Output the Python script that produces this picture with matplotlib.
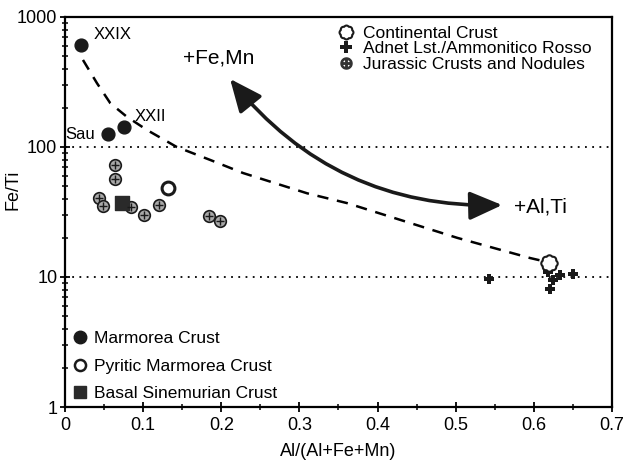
import matplotlib
matplotlib.use('Agg')
import matplotlib.pyplot as plt
import numpy as np
from matplotlib.path import Path
from matplotlib.patches import FancyArrowPatch
from matplotlib.lines import Line2D

plt.rcParams['font.family'] = ['Liberation Sans', 'DejaVu Sans']

# Marmorea Crust (labelled points)
marm_x = [0.021, 0.055, 0.075]
marm_y = [609, 126, 143]
marm_lab = ['XXIX', 'Sau', 'XXII']
# Pyritic Marmorea Crust
pyr_x = [0.132]
pyr_y = [48]
# Basal Sinemurian Crust
bas_x = [0.073]
bas_y = [37]
# Jurassic crusts and nodules
jur_x = [0.064, 0.064, 0.043, 0.049, 0.085, 0.1015, 0.120, 0.184, 0.198]
jur_y = [72.7, 56.4, 40.3, 35.4, 34.4, 29.8, 35.8, 29.3, 27.1]
# Continental crust
cc_x = [0.619]
cc_y = [12.9]
# Adnet Lst./Ammonitico Rosso
adn_x = [0.542, 0.618, 0.624, 0.621, 0.634, 0.650]
adn_y = [9.7, 10.9, 9.5, 8.1, 10.4, 10.5]
# mixing curve
mix_x = [0.023, 0.041, 0.058, 0.079, 0.105, 0.143, 0.186, 0.228, 0.310, 0.361, 0.502, 0.595, 0.618]
mix_y = [467, 309, 217, 171, 135, 100, 79.4, 63, 44, 37, 20, 14, 13]

# scalloped circle marker for continental crust
t = np.linspace(0, 2 * np.pi, 200)
r = 1 + 0.13 * np.abs(np.cos(4 * t))
flower = Path(np.column_stack([r * np.cos(t), r * np.sin(t)]), closed=True)

fig = plt.figure(figsize=(6.28, 4.66), dpi=100)
ax = fig.add_axes([0.1035, 0.1266, 0.871, 0.837])
ax.set_yscale('log')
ax.set_xlim(0, 0.7)
ax.set_ylim(1, 1000)

ax.axhline(100, color='black', ls=(0, (1, 3)), lw=1.3, zorder=1)
ax.axhline(10, color='black', ls=(0, (1, 3)), lw=1.3, zorder=1)
ax.plot(mix_x, mix_y, color='black', ls=(0, (4.5, 3.5)), lw=1.8, zorder=2)

ax.scatter(jur_x, jur_y, s=70, marker='o', facecolor='#a8a8a8', edgecolor='#1a1a1a', linewidths=1.2, zorder=3)
ax.scatter(jur_x, jur_y, s=40, marker='+', color='#1a1a1a', linewidths=1.0, zorder=4)
ax.scatter(marm_x, marm_y, s=85, marker='o', color='#1a1a1a', zorder=3)
ax.scatter(pyr_x, pyr_y, s=85, marker='o', facecolor='white', edgecolor='#1a1a1a', linewidths=2.2, zorder=3)
ax.scatter(bas_x, bas_y, s=95, marker='s', color='#2a2a2a', zorder=3)
ax.scatter(adn_x, adn_y, s=60, marker='P', color='#1a1a1a', linewidths=0, zorder=3)
ax.scatter(cc_x, cc_y, s=140, marker=flower, facecolor='white', edgecolor='#1a1a1a', linewidths=1.5, zorder=4)

ax.text(0.036, 727, marm_lab[0], fontsize=12, va='center', ha='left')
ax.text(0.0384, 124, marm_lab[1], fontsize=12, va='center', ha='right')
ax.text(0.0897, 171, marm_lab[2], fontsize=12, va='center', ha='left')
ax.text(0.151, 481, '+Fe,Mn', fontsize=15, va='center', ha='left')
ax.text(0.574, 34.7, '+Al,Ti', fontsize=15, va='center', ha='left')

arrow = FancyArrowPatch((0.209, 347), (0.563, 35.8), connectionstyle='arc3,rad=0.25',
                        arrowstyle='<|-|>,head_length=0.8,head_width=0.35', mutation_scale=25,
                        lw=2.6, color='#1a1a1a', zorder=5)
ax.add_patch(arrow)

h1 = [Line2D([], [], ls='', marker=flower, ms=10, mfc='white', mec='#1a1a1a', mew=1.5),
      Line2D([], [], ls='', marker='P', ms=8, color='#1a1a1a', mew=0),
      Line2D([], [], ls='', marker='$\\oplus$', ms=8, color='#333333')]
leg1 = ax.legend(h1, ['Continental Crust', 'Adnet Lst./Ammonitico Rosso', 'Jurassic Crusts and Nodules'],
                 loc='upper left', bbox_to_anchor=(0.475, 1.012), frameon=False, fontsize=12.5,
                 handlelength=0.8, handletextpad=0.6, labelspacing=0.0, borderpad=0.3)
ax.add_artist(leg1)

h2 = [Line2D([], [], ls='', marker='o', ms=9, color='#1a1a1a'),
      Line2D([], [], ls='', marker='o', ms=8, mfc='white', mec='#1a1a1a', mew=1.8),
      Line2D([], [], ls='', marker='s', ms=9, color='#2a2a2a')]
ax.legend(h2, ['Marmorea Crust', 'Pyritic Marmorea Crust', 'Basal Sinemurian Crust'],
          loc='lower left', bbox_to_anchor=(-0.01, -0.02), frameon=False, fontsize=12.5,
          handlelength=0.8, handletextpad=0.4, labelspacing=0.7, borderpad=0.3)

ax.set_xticks(np.arange(0, 0.71, 0.1))
ax.set_xticklabels(['0', '0.1', '0.2', '0.3', '0.4', '0.5', '0.6', '0.7'])
ax.set_xticks(np.arange(0.05, 0.7, 0.1), minor=True)
ax.set_yticks([1, 10, 100, 1000])
ax.set_yticklabels(['1', '10', '100', '1000'])
ax.tick_params(axis='both', which='major', direction='inout', length=7, width=1.3, labelsize=13)
ax.tick_params(axis='both', which='minor', direction='inout', length=5, width=1.1)
ax.tick_params(axis='y', pad=2)
for sp in ax.spines.values():
    sp.set_linewidth(1.6)

ax.set_xlabel('Al/(Al+Fe+Mn)', fontsize=13, labelpad=7)
ax.set_ylabel('Fe/Ti', fontsize=13)
ax.yaxis.set_label_coords(-0.079, 0.556)

fig.savefig('out.png', dpi=100)
